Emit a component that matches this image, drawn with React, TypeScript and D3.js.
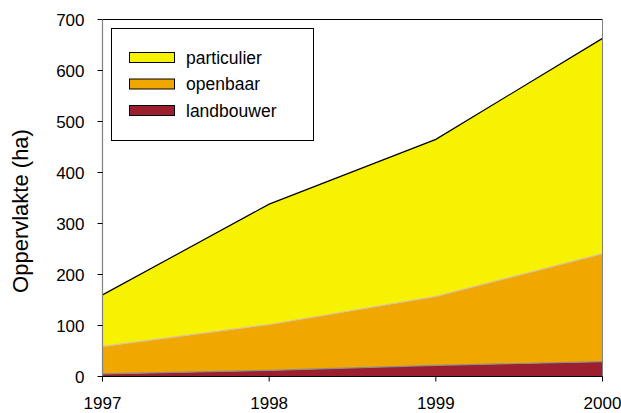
import React from "react";
import * as d3 from "d3";

const years = [1997, 1998, 1999, 2000];
const landbouwer = [5, 12, 22, 29];
const openbaar = [54, 90, 135, 212];
const particulier = [101, 236, 308, 422];
const yTicks = [0, 100, 200, 300, 400, 500, 600, 700];
const seriesNames = ["landbouwer", "openbaar", "particulier"];
const legendOrder = ["particulier", "openbaar", "landbouwer"];

const colors: Record<string, string> = {
  particulier: "#F7F200",
  openbaar: "#F0A800",
  landbouwer: "#9B1F2F",
};
const edgeColors: Record<string, string> = {
  particulier: "#000000",
  openbaar: "#D9C2A8",
  landbouwer: "#8C8C8C",
};

export default function App() {
  const W = 621, H = 413;
  const left = 102.5, right = 602.5, top = 19.5, bottom = 376.5;
  const x = d3.scaleLinear().domain([1997, 2000]).range([left, right]);
  const y = d3.scaleLinear().domain([0, 700]).range([bottom, top]);

  const rows = years.map((yr, i) => ({
    year: yr,
    landbouwer: landbouwer[i],
    openbaar: openbaar[i],
    particulier: particulier[i],
  }));
  const stack = d3.stack<any>().keys(seriesNames);
  const layers = stack(rows);

  const area = d3
    .area<any>()
    .x((d) => x(d.data.year))
    .y0((d) => y(d[0]))
    .y1((d) => y(d[1]));
  const line = d3
    .line<any>()
    .x((d) => x(d.data.year))
    .y((d) => y(d[1]));

  const font = "Arial, 'Liberation Sans', sans-serif";

  return (
    <svg
      width={W}
      height={H}
      style={{ position: "absolute", left: 0, top: 0 }}
      fontFamily={font}
    >
      <rect x={0} y={0} width={W} height={H} fill="#fff" />
      {layers.map((l) => (
        <path key={l.key} d={area(l) || ""} fill={colors[l.key]} />
      ))}
      {layers.map((l) => (
        <path
          key={l.key + "-edge"}
          d={line(l) || ""}
          fill="none"
          stroke={edgeColors[l.key]}
          strokeWidth={1.2}
        />
      ))}
      {/* plot frame */}
      <line x1={left} x2={right} y1={top} y2={top} stroke="#000" strokeWidth={1} />
      <line x1={right} x2={right} y1={top} y2={bottom} stroke="#808080" strokeWidth={1} />
      {/* y axis */}
      <line x1={left} x2={left} y1={top} y2={bottom} stroke="#808080" strokeWidth={1.2} />
      {yTicks.map((t) => (
        <g key={t}>
          <line x1={left - 5} x2={left} y1={y(t)} y2={y(t)} stroke="#000" />
          <text
            x={left - 18}
            y={y(t)}
            dy="0.36em"
            textAnchor="end"
            fontSize={17}
            fill="#000"
          >
            {t}
          </text>
        </g>
      ))}
      {/* x axis */}
      <line x1={left} x2={right} y1={bottom} y2={bottom} stroke="#000" strokeWidth={1.2} />
      {years.map((yr) => (
        <g key={yr}>
          <line x1={x(yr)} x2={x(yr)} y1={bottom} y2={bottom + 5} stroke="#000" />
          <text
            x={x(yr)}
            y={bottom + 32.5}
            textAnchor="middle"
            fontSize={17}
            fill="#000"
          >
            {yr}
          </text>
        </g>
      ))}
      <text
        transform={`translate(28,211) rotate(-90)`}
        textAnchor="middle"
        fontSize={22}
        fill="#000"
      >
        Oppervlakte (ha)
      </text>
      {/* legend */}
      <rect x={111.5} y={28.5} width={202} height={112} fill="#fff" stroke="#000" strokeWidth={1} />
      {legendOrder.map((k, i) => (
        <g key={k}>
          <rect
            x={129.5}
            y={52.5 + i * 26.5}
            width={45}
            height={10}
            fill={colors[k]}
            stroke="#000"
            strokeWidth={1}
          />
          <text x={186} y={57.5 + i * 26.5} dy="0.36em" fontSize={17.5} fill="#000">
            {k}
          </text>
        </g>
      ))}
    </svg>
  );
}
